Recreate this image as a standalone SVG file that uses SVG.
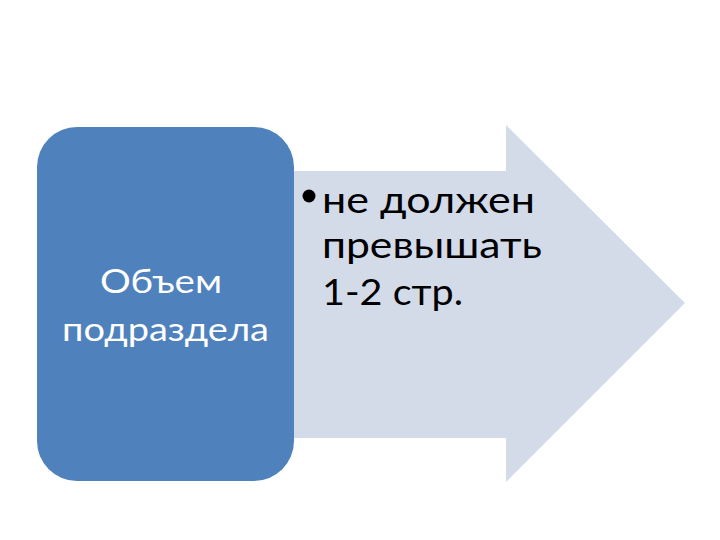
<svg xmlns="http://www.w3.org/2000/svg" width="720" height="540" viewBox="0 0 720 540">
<style>
.arrow{fill:#D3DBE9}
.box{fill:#4F81BD}
.lbl{font-family:Lato,"Open Sans",sans-serif;font-size:33px;fill:#FFFFFF}
.txt{font-family:Lato,"Open Sans",sans-serif;font-size:37px;fill:#000000}
</style>
<rect width="720" height="540" fill="#FFFFFF"/>
<g id="arrow">
<polygon class="arrow" points="230,171 506,171 506,125 685,303 506,482 506,438 230,438"/>
<circle cx="309" cy="196" r="6.5" fill="#000"/>
<text class="txt" x="322" y="213" textLength="213" lengthAdjust="spacingAndGlyphs">не должен</text>
<text class="txt" x="322" y="258" textLength="220" lengthAdjust="spacingAndGlyphs">превышать</text>
<text class="txt" x="322" y="305" textLength="141" lengthAdjust="spacingAndGlyphs">1-2 стр.</text>
</g>
<g id="box">
<rect class="box" x="37" y="127" width="257" height="354" rx="40" ry="40"/>
<text class="lbl" x="100" y="293" textLength="122" lengthAdjust="spacingAndGlyphs">Объем</text>
<text class="lbl" x="62" y="341" textLength="207" lengthAdjust="spacingAndGlyphs">подраздела</text>
</g>
<g id="connectors"/>
</svg>
